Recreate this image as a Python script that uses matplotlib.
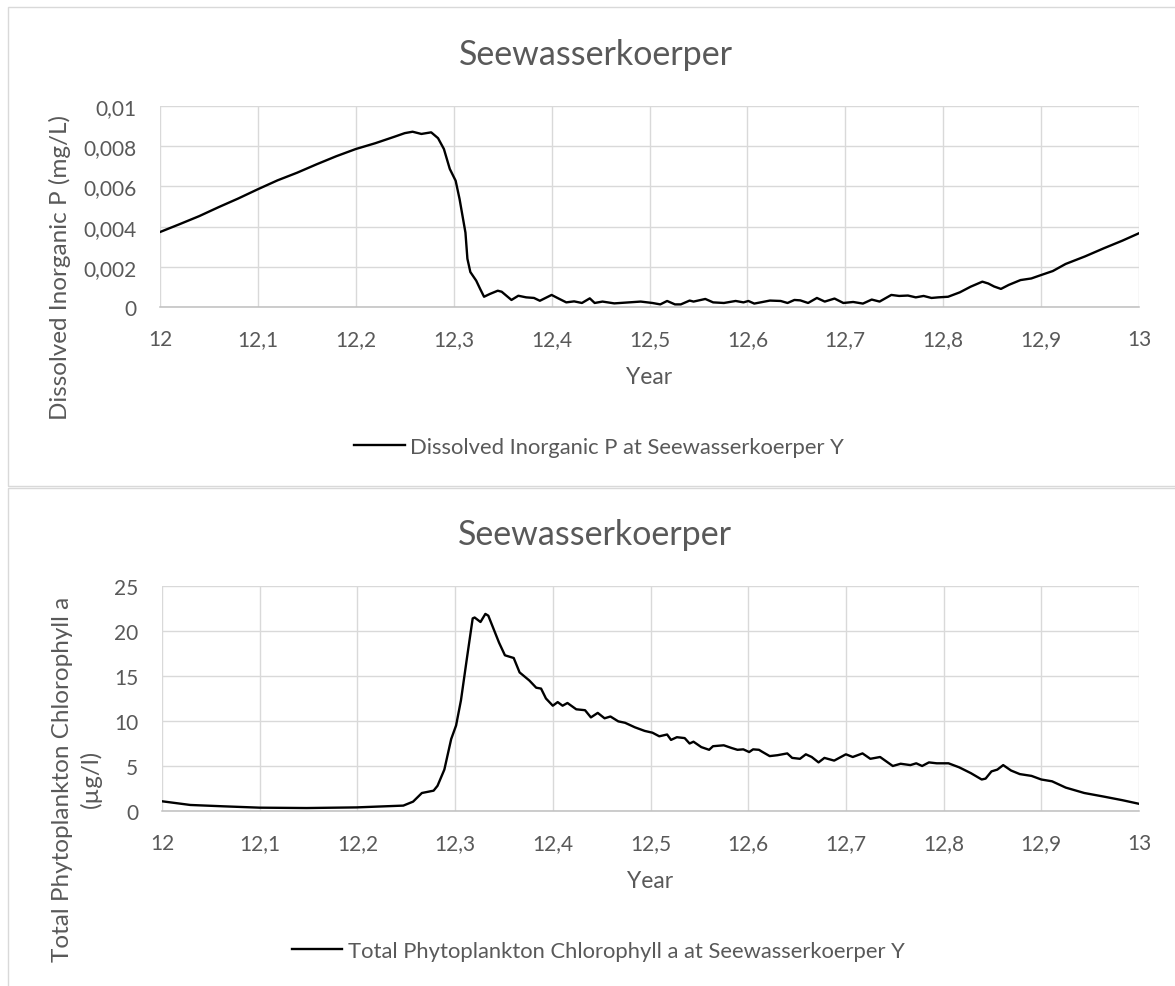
import matplotlib
matplotlib.use("Agg")
import matplotlib.pyplot as plt
from matplotlib.patches import Rectangle
from matplotlib.ticker import FixedLocator, FixedFormatter

# данные
p_year = [12.000, 12.020, 12.040, 12.060, 12.080, 12.100, 12.120, 12.140, 12.160, 12.180,
          12.200, 12.220, 12.240, 12.250, 12.258, 12.267, 12.277, 12.284, 12.290, 12.296,
          12.302, 12.306, 12.312, 12.314, 12.317, 12.323, 12.327, 12.331, 12.337, 12.345,
          12.349, 12.359, 12.366, 12.374, 12.382, 12.388, 12.400, 12.408, 12.415, 12.423,
          12.431, 12.439, 12.444, 12.452, 12.464, 12.479, 12.491, 12.503, 12.511, 12.518,
          12.526, 12.532, 12.541, 12.545, 12.557, 12.565, 12.576, 12.588, 12.596, 12.601,
          12.607, 12.623, 12.634, 12.641, 12.648, 12.654, 12.662, 12.671, 12.679, 12.689,
          12.698, 12.708, 12.718, 12.727, 12.735, 12.747, 12.755, 12.764, 12.772, 12.780,
          12.788, 12.795, 12.805, 12.817, 12.828, 12.840, 12.846, 12.852, 12.859, 12.867,
          12.879, 12.890, 12.900, 12.912, 12.925, 12.945, 12.964, 12.983, 13.000]
p_value = [0.00373, 0.00412, 0.00452, 0.00497, 0.00540, 0.00586, 0.00630, 0.00668, 0.00710, 0.00750,
           0.00786, 0.00815, 0.00848, 0.00865, 0.00872, 0.00861, 0.00869, 0.00840, 0.00786, 0.00687,
           0.00628, 0.00537, 0.00370, 0.00240, 0.00174, 0.00131, 0.00090, 0.00051, 0.00065, 0.00081,
           0.00076, 0.00035, 0.00056, 0.00048, 0.00045, 0.00031, 0.00060, 0.00040, 0.00023, 0.00028,
           0.00020, 0.00043, 0.00020, 0.00027, 0.00018, 0.00023, 0.00027, 0.00020, 0.00013, 0.00030,
           0.00013, 0.00013, 0.00032, 0.00027, 0.00040, 0.00023, 0.00020, 0.00030, 0.00023, 0.00030,
           0.00017, 0.00032, 0.00030, 0.00020, 0.00035, 0.00033, 0.00020, 0.00045, 0.00027, 0.00042,
           0.00020, 0.00025, 0.00017, 0.00037, 0.00027, 0.00060, 0.00055, 0.00057, 0.00048, 0.00055,
           0.00045, 0.00048, 0.00051, 0.00073, 0.00101, 0.00126, 0.00117, 0.00102, 0.00090, 0.00110,
           0.00134, 0.00142, 0.00159, 0.00179, 0.00214, 0.00252, 0.00292, 0.00330, 0.00367]

chl_year = [12.000, 12.029, 12.063, 12.100, 12.148, 12.199, 12.247, 12.257, 12.266, 12.278,
            12.282, 12.289, 12.296, 12.301, 12.306, 12.312, 12.318, 12.320, 12.326, 12.331,
            12.334, 12.345, 12.351, 12.360, 12.366, 12.376, 12.383, 12.388, 12.393, 12.400,
            12.405, 12.410, 12.415, 12.424, 12.433, 12.439, 12.446, 12.453, 12.459, 12.467,
            12.474, 12.484, 12.494, 12.502, 12.509, 12.517, 12.521, 12.527, 12.535, 12.540,
            12.544, 12.552, 12.560, 12.564, 12.575, 12.583, 12.589, 12.595, 12.601, 12.605,
            12.611, 12.614, 12.622, 12.630, 12.640, 12.645, 12.653, 12.659, 12.665, 12.672,
            12.678, 12.688, 12.700, 12.707, 12.717, 12.725, 12.735, 12.748, 12.756, 12.766,
            12.772, 12.778, 12.785, 12.793, 12.805, 12.816, 12.828, 12.839, 12.843, 12.849,
            12.855, 12.861, 12.869, 12.878, 12.890, 12.900, 12.911, 12.925, 12.944, 12.964,
            12.983, 13.000]
chl_value = [1.08, 0.67, 0.52, 0.37, 0.33, 0.40, 0.60, 1.04, 2.00, 2.26,
             2.80, 4.60, 8.00, 9.50, 12.3, 16.9, 21.4, 21.5, 21.0, 21.9,
             21.7, 18.7, 17.3, 17.0, 15.4, 14.5, 13.7, 13.6, 12.5, 11.7,
             12.1, 11.7, 12.0, 11.3, 11.2, 10.4, 10.9, 10.3, 10.5, 9.96,
             9.80, 9.30, 8.90, 8.70, 8.30, 8.50, 7.90, 8.20, 8.10, 7.50,
             7.70, 7.10, 6.80, 7.20, 7.30, 7.00, 6.80, 6.85, 6.55, 6.85,
             6.80, 6.60, 6.10, 6.20, 6.40, 5.90, 5.80, 6.30, 6.00, 5.40,
             5.90, 5.60, 6.30, 6.00, 6.40, 5.80, 6.00, 5.00, 5.25, 5.10,
             5.30, 5.00, 5.40, 5.30, 5.30, 4.85, 4.20, 3.50, 3.60, 4.40,
             4.60, 5.10, 4.50, 4.10, 3.90, 3.50, 3.30, 2.60, 2.00, 1.60,
             1.20, 0.80]

x_ticks = [12.0, 12.1, 12.2, 12.3, 12.4, 12.5, 12.6, 12.7, 12.8, 12.9, 13.0]
x_tick_labels = ["12", "12,1", "12,2", "12,3", "12,4", "12,5", "12,6", "12,7", "12,8", "12,9", "13"]
p_ticks = [0, 0.002, 0.004, 0.006, 0.008, 0.01]
p_tick_labels = ["0", "0,002", "0,004", "0,006", "0,008", "0,01"]
chl_ticks = [0, 5, 10, 15, 20, 25]
chl_tick_labels = ["0", "5", "10", "15", "20", "25"]

title = "Seewasserkoerper"
p_ylabel = "Dissolved Inorganic P (mg/L)"
chl_ylabel = "Total Phytoplankton Chlorophyll a\n(µg/l)"
p_legend = "Dissolved Inorganic P at Seewasserkoerper Y"
chl_legend = "Total Phytoplankton Chlorophyll a at Seewasserkoerper Y"

plt.rcParams['font.family'] = ['Lato', 'DejaVu Sans']
TEXT = "#595959"
GRID = "#D9D9D9"

W, H = 1175, 987
fig = plt.figure(figsize=(W / 100, H / 100), dpi=100)


def fx(px):
    return px / W


def fy(py):
    return 1 - py / H


def make_axes(left, top, right, bottom):
    return fig.add_axes([fx(left), fy(bottom), (right - left) / W, (bottom - top) / H])


def style_axes(ax, yticks, ylabels):
    ax.set_xlim(12, 13)
    ax.set_ylim(yticks[0], yticks[-1])
    ax.xaxis.set_major_locator(FixedLocator(x_ticks))
    ax.xaxis.set_major_formatter(FixedFormatter(x_tick_labels))
    ax.yaxis.set_major_locator(FixedLocator(yticks))
    ax.yaxis.set_major_formatter(FixedFormatter(ylabels))
    ax.grid(True, color=GRID, linewidth=1.0)
    ax.set_axisbelow(True)
    for side in ("left", "top", "right"):
        ax.spines[side].set_visible(False)
    ax.spines["bottom"].set_color("#BFBFBF")
    ax.spines["bottom"].set_linewidth(1.1)
    ax.tick_params(axis="both", length=0, labelsize=15, labelcolor=TEXT)
    ax.tick_params(axis="x", pad=16)
    ax.tick_params(axis="y", pad=17)


# рамки областей диаграмм
fig.patches.append(Rectangle((fx(8), fy(487)), fx(1200), (487 - 8) / H, transform=fig.transFigure,
                             fill=False, edgecolor=GRID, linewidth=1.0))
fig.patches.append(Rectangle((fx(8), fy(1010)), fx(1200), (1010 - 489) / H, transform=fig.transFigure,
                             fill=False, edgecolor=GRID, linewidth=1.0))

# верхний график - фосфор
ax1 = make_axes(160, 107, 1139, 308)
style_axes(ax1, p_ticks, p_tick_labels)
line1, = ax1.plot(p_year, p_value, color="black", linewidth=1.7, label=p_legend)
fig.text(fx(596), fy(55), title, ha="center", va="center", fontsize=24.5, color=TEXT)
fig.text(fx(649), fy(378), "Year", ha="center", va="center", fontsize=16.5, color=TEXT)
fig.text(fx(60), fy(268), p_ylabel, ha="center", va="center", rotation=90, fontsize=17.5, color=TEXT)
fig.legend(handles=[line1], loc="center", bbox_to_anchor=(fx(599), fy(448)), frameon=False,
           fontsize=15.8, labelcolor=TEXT, handlelength=2.3, handletextpad=0.25, borderpad=0)

# нижний график - хлорофилл
ax2 = make_axes(162, 587, 1139, 812)
style_axes(ax2, chl_ticks, chl_tick_labels)
line2, = ax2.plot(chl_year, chl_value, color="black", linewidth=1.7, label=chl_legend)
fig.text(fx(595), fy(535), title, ha="center", va="center", fontsize=24.5, color=TEXT)
fig.text(fx(650), fy(882), "Year", ha="center", va="center", fontsize=16.5, color=TEXT)
fig.text(fx(77), fy(779), chl_ylabel, ha="center", va="center", rotation=90, fontsize=17.5,
         color=TEXT, linespacing=1.4, multialignment="center")
fig.legend(handles=[line2], loc="center", bbox_to_anchor=(fx(598), fy(952)), frameon=False,
           fontsize=15.8, labelcolor=TEXT, handlelength=2.3, handletextpad=0.25, borderpad=0)

fig.savefig("out.png", dpi=100)
